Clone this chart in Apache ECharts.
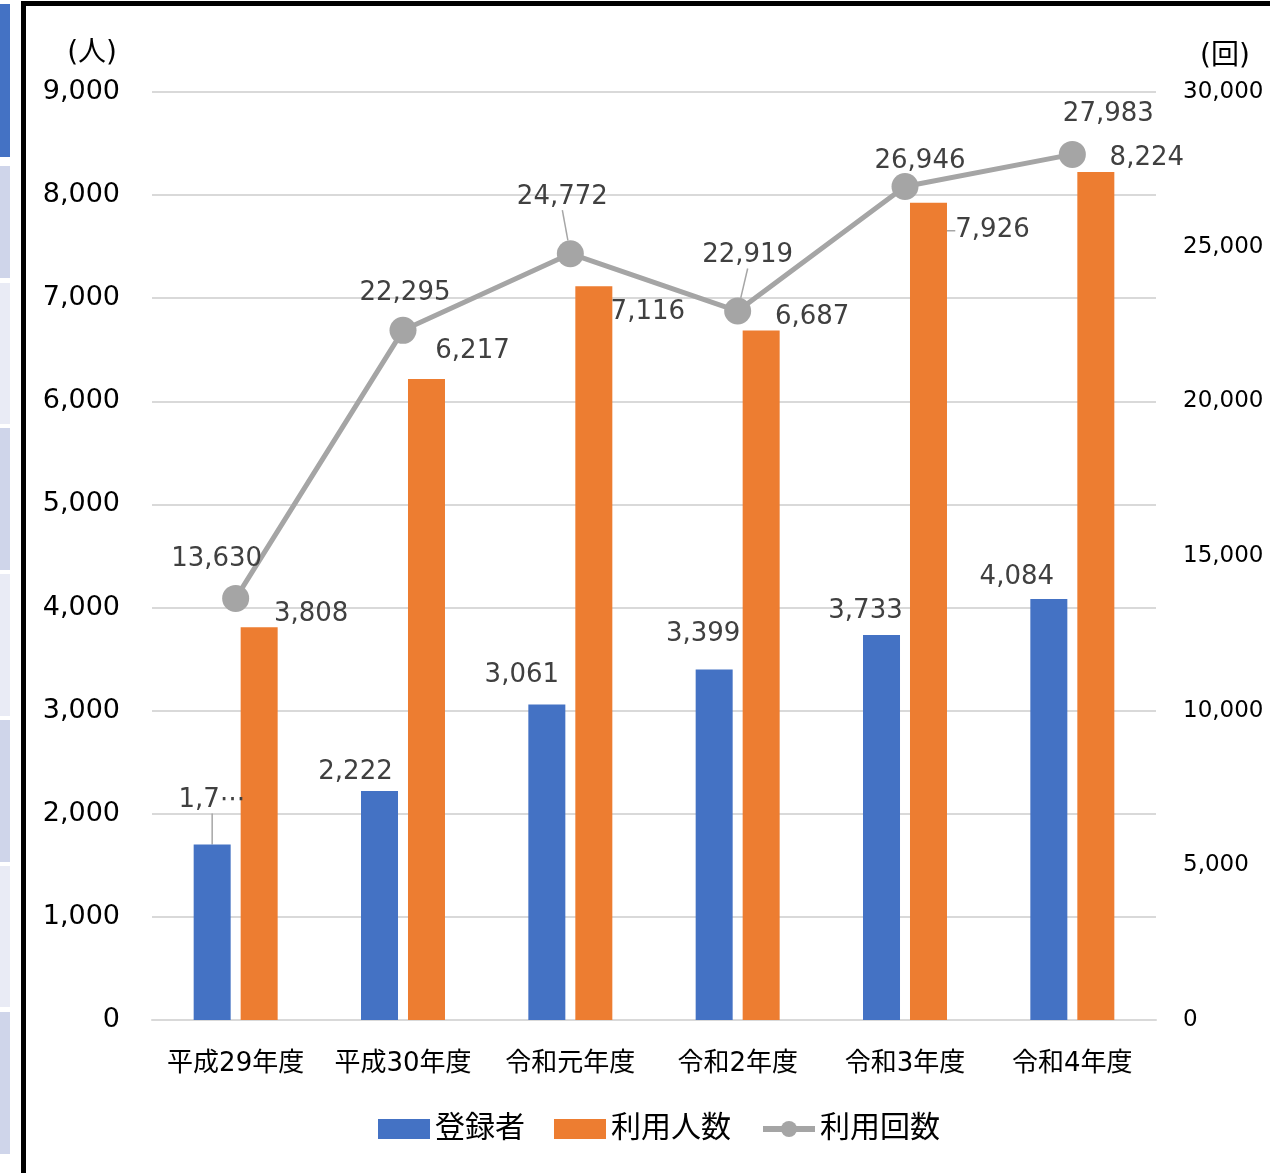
<!DOCTYPE html>
<html><head><meta charset="utf-8">
<script src="https://cdn.jsdelivr.net/npm/echarts@6/dist/echarts.min.js"></script>
<style>html,body{margin:0;padding:0;background:#fff;}#c{width:1270px;height:1173px;}</style>
</head><body><div id="c"></div>
<script>
const categories = ['平成29年度','平成30年度','令和元年度','令和2年度','令和3年度','令和4年度'];
const registered = [1703, 2222, 3061, 3399, 3733, 4084];
const users = [3808, 6217, 7116, 6687, 7926, 8224];
const visits = [13630, 22295, 24772, 22919, 26946, 27983];
const leftTicks = {min: 0, max: 9000, interval: 1000};
const rightTicks = {min: 0, max: 30000, interval: 5000};
const seriesNames = ['登録者', '利用人数', '利用回数'];

// label placement (style, not data)
const regOffsets = [[0,-31],[-24,-6],[-25,-16],[-11,-22],[-16,-11],[-32,-9]];
const userOffsets = [[52,0],[46,-15],[54,39],[51,0],[64,41],[51,-1]];
const visitOffsets = [[-19,-13],[2,-11],[-8,-30],[10,-29],[15,1],[36,-14]];
const regLeader = [true,false,false,false,false,false];
const userLeader = [false,false,false,false,true,false];
const visitLeader = [false,false,true,true,false,false];

const fmt = v => v.toLocaleString('en-US');
const NUM_FONT = '"DejaVu Sans", "Noto Sans CJK JP", sans-serif';
const CJK_FONT = '"DejaVu Sans", "Noto Sans CJK JP", sans-serif';

const chart = echarts.init(document.getElementById('c'), null, {renderer: 'canvas'});

const labelBase = {show: true, color: '#404040', fontFamily: NUM_FONT, fontSize: 26, lineHeight: 26, distance: 0, position: 'top'};
const leaderStyle = {show: true, lineStyle: {color: '#a6a6a6', width: 1.5}, length2: 0, smooth: false};

function mkData(vals, leaders) {
  return vals.map((v, i) => leaders[i] ? {value: v, labelLine: leaderStyle} : {value: v});
}
function mkLayout(offs) {
  return p => ({dx: offs[p.dataIndex][0], dy: offs[p.dataIndex][1]});
}

const strips = [
  [4,157,'#4472C4'],[166,278,'#CFD5EA'],[283,424,'#E9EBF5'],[428,570,'#CFD5EA'],
  [574,716,'#E9EBF5'],[720,862,'#CFD5EA'],[866,1007,'#E9EBF5'],[1012,1154,'#CFD5EA']
].map(s => ({type: 'rect', shape: {x: 0, y: s[0], width: 10, height: s[1]-s[0]}, style: {fill: s[2]}, silent: true}));

chart.setOption({
  backgroundColor: '#ffffff',
  animation: false,
  graphic: strips.concat([
    {type: 'rect', shape: {x: 21, y: 1, width: 5, height: 1172}, style: {fill: '#000'}},
    {type: 'rect', shape: {x: 21, y: 1, width: 1249, height: 5}, style: {fill: '#000'}}
  ]),
  grid: {left: 152, right: 114, top: 92, bottom: 153, containLabel: false},
  legend: {
    data: [
      {name: seriesNames[0], icon: 'rect'},
      {name: seriesNames[1], icon: 'rect'},
      {name: seriesNames[2], lineStyle: {width: 6, color: '#A5A5A5'}, itemStyle: {color: '#A5A5A5'}}
    ],
    left: 373, top: 1109,
    itemWidth: 52, itemHeight: 20, itemGap: 29,
    textStyle: {fontFamily: CJK_FONT, fontSize: 30, color: '#000'}
  },
  xAxis: {
    type: 'category', data: categories,
    axisLine: {lineStyle: {color: '#d9d9d9', width: 2}},
    axisTick: {show: false},
    axisLabel: {fontFamily: CJK_FONT, fontSize: 26, color: '#000', margin: 31, interval: 0}
  },
  yAxis: [
    {
      type: 'value', min: leftTicks.min, max: leftTicks.max, interval: leftTicks.interval,
      name: '(人)', nameLocation: 'end', nameGap: 38,
      nameTextStyle: {fontFamily: CJK_FONT, fontSize: 28, color: '#000', align: 'right', verticalAlign: 'middle', padding: [0, 35, 0, 0]},
      axisLine: {show: false}, axisTick: {show: false},
      splitLine: {lineStyle: {color: '#d9d9d9', width: 2}},
      axisLabel: {fontFamily: NUM_FONT, fontSize: 27, color: '#000', margin: 32, formatter: v => fmt(v)}
    },
    {
      type: 'value', min: rightTicks.min, max: rightTicks.max, interval: rightTicks.interval,
      name: '(回)', nameLocation: 'end', nameGap: 35,
      nameTextStyle: {fontFamily: CJK_FONT, fontSize: 28, color: '#000', align: 'left', verticalAlign: 'middle', padding: [0, 0, 0, 44]},
      axisLine: {show: false}, axisTick: {show: false}, splitLine: {show: false},
      axisLabel: {fontFamily: NUM_FONT, fontSize: 23, color: '#000', margin: 27, formatter: v => fmt(v)}
    }
  ],
  series: [
    {
      name: seriesNames[0], type: 'bar', yAxisIndex: 0,
      data: mkData(registered, regLeader),
      barWidth: 37, barGap: '27%',
      itemStyle: {color: '#4472C4'},
      label: Object.assign({}, labelBase, {formatter: p => p.dataIndex === 0 ? fmt(p.value).slice(0, 3) + '\u22EF' : fmt(p.value)}),
      labelLayout: mkLayout(regOffsets),
      z: 2
    },
    {
      name: seriesNames[1], type: 'bar', yAxisIndex: 0,
      data: mkData(users, userLeader),
      barWidth: 37,
      itemStyle: {color: '#ED7D31'},
      label: Object.assign({}, labelBase, {formatter: p => fmt(p.value)}),
      labelLayout: mkLayout(userOffsets),
      z: 2
    },
    {
      name: seriesNames[2], type: 'line', yAxisIndex: 1,
      data: mkData(visits, visitLeader),
      symbol: 'circle', symbolSize: 27,
      lineStyle: {color: '#A5A5A5', width: 5},
      itemStyle: {color: '#A5A5A5'},
      label: Object.assign({}, labelBase, {formatter: p => fmt(p.value)}),
      labelLayout: mkLayout(visitOffsets),
      z: 3
    }
  ]
});
</script>
</body></html>
